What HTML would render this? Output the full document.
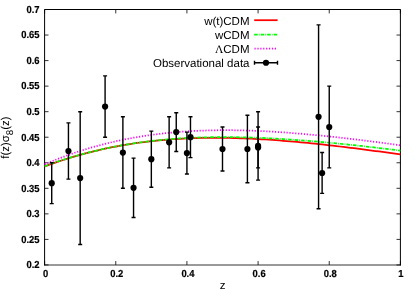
<!DOCTYPE html><html><head><meta charset="utf-8"><style>html,body{margin:0;padding:0;background:#fff}svg{display:block;will-change:transform}text{text-rendering:geometricPrecision;font-family:"Liberation Sans",sans-serif;fill:#000}</style></head><body>
<svg width="415" height="291" viewBox="0 0 415 291">
<rect width="415" height="291" fill="#fff"/>
<g stroke="#000" stroke-width="1" fill="none">
<path d="M44.6,265.45V9.5H400.4V265.45"/><path d="M44.1,265.0H400.9" stroke-width="0.8"/>
<path d="M44.6,264.95h3.9M400.4,264.95h-3.9" stroke-width="0.8"/>
<path d="M44.6,239.41h3.9M400.4,239.41h-3.9" stroke-width="0.8"/>
<path d="M44.6,213.86h3.9M400.4,213.86h-3.9" stroke-width="0.8"/>
<path d="M44.6,188.31h3.9M400.4,188.31h-3.9" stroke-width="0.8"/>
<path d="M44.6,162.77h3.9M400.4,162.77h-3.9" stroke-width="0.8"/>
<path d="M44.6,137.22h3.9M400.4,137.22h-3.9" stroke-width="0.8"/>
<path d="M44.6,111.68h3.9M400.4,111.68h-3.9" stroke-width="0.8"/>
<path d="M44.6,86.13h3.9M400.4,86.13h-3.9" stroke-width="0.8"/>
<path d="M44.6,60.59h3.9M400.4,60.59h-3.9" stroke-width="0.8"/>
<path d="M44.6,35.04h3.9M400.4,35.04h-3.9" stroke-width="0.8"/>
<path d="M44.6,9.50h3.9M400.4,9.50h-3.9" stroke-width="0.8"/>
<path d="M44.60,264.95v-3.9M44.60,9.5v3.9" stroke-width="0.8"/>
<path d="M115.76,264.95v-3.9M115.76,9.5v3.9" stroke-width="0.8"/>
<path d="M186.92,264.95v-3.9M186.92,9.5v3.9" stroke-width="0.8"/>
<path d="M258.08,264.95v-3.9M258.08,9.5v3.9" stroke-width="0.8"/>
<path d="M329.24,264.95v-3.9M329.24,9.5v3.9" stroke-width="0.8"/>
<path d="M400.40,264.95v-3.9M400.40,9.5v3.9" stroke-width="0.8"/>
</g>
<path d="M44.6,166.44 L48.2,165.14 L51.7,163.87 L55.3,162.63 L58.8,161.42 L62.4,160.25 L65.9,159.11 L69.5,158.00 L73.1,156.93 L76.6,155.88 L80.2,154.88 L83.7,153.90 L87.3,152.96 L90.9,152.04 L94.4,151.16 L98.0,150.31 L101.5,149.50 L105.1,148.71 L108.6,147.96 L112.2,147.23 L115.8,146.54 L119.3,145.87 L122.9,145.24 L126.4,144.63 L130.0,144.06 L133.5,143.51 L137.1,142.99 L140.7,142.50 L144.2,142.03 L147.8,141.59 L151.3,141.18 L154.9,140.80 L158.5,140.44 L162.0,140.10 L165.6,139.79 L169.1,139.51 L172.7,139.25 L176.2,139.01 L179.8,138.79 L183.4,138.60 L186.9,138.43 L190.5,138.29 L194.0,138.16 L197.6,138.06 L201.2,137.97 L204.7,137.91 L208.3,137.86 L211.8,137.84 L215.4,137.83 L218.9,137.85 L222.5,137.88 L226.1,137.92 L229.6,137.99 L233.2,138.07 L236.7,138.17 L240.3,138.28 L243.8,138.41 L247.4,138.56 L251.0,138.72 L254.5,138.89 L258.1,139.08 L261.6,139.28 L265.2,139.50 L268.8,139.73 L272.3,139.97 L275.9,140.22 L279.4,140.49 L283.0,140.76 L286.5,141.05 L290.1,141.35 L293.7,141.66 L297.2,141.98 L300.8,142.31 L304.3,142.65 L307.9,142.99 L311.4,143.35 L315.0,143.72 L318.6,144.09 L322.1,144.47 L325.7,144.86 L329.2,145.26 L332.8,145.67 L336.4,146.08 L339.9,146.50 L343.5,146.92 L347.0,147.36 L350.6,147.79 L354.1,148.24 L357.7,148.69 L361.3,149.14 L364.8,149.60 L368.4,150.07 L371.9,150.54 L375.5,151.01 L379.1,151.49 L382.6,151.98 L386.2,152.46 L389.7,152.95 L393.3,153.45 L396.8,153.95 L400.4,154.45" fill="none" stroke="#ff0000" stroke-width="1.75"/>
<path d="M44.6,166.25 L48.2,164.95 L51.7,163.69 L55.3,162.45 L58.8,161.25 L62.4,160.09 L65.9,158.96 L69.5,157.86 L73.1,156.80 L76.6,155.76 L80.2,154.76 L83.7,153.80 L87.3,152.86 L90.9,151.96 L94.4,151.08 L98.0,150.24 L101.5,149.43 L105.1,148.65 L108.6,147.89 L112.2,147.17 L115.8,146.48 L119.3,145.81 L122.9,145.18 L126.4,144.57 L130.0,143.99 L133.5,143.43 L137.1,142.90 L140.7,142.40 L144.2,141.92 L147.8,141.47 L151.3,141.05 L154.9,140.65 L158.5,140.27 L162.0,139.91 L165.6,139.58 L169.1,139.28 L172.7,138.99 L176.2,138.73 L179.8,138.48 L183.4,138.26 L186.9,138.06 L190.5,137.88 L194.0,137.72 L197.6,137.58 L201.2,137.46 L204.7,137.36 L208.3,137.27 L211.8,137.21 L215.4,137.16 L218.9,137.12 L222.5,137.11 L226.1,137.11 L229.6,137.13 L233.2,137.16 L236.7,137.21 L240.3,137.27 L243.8,137.35 L247.4,137.44 L251.0,137.54 L254.5,137.66 L258.1,137.79 L261.6,137.94 L265.2,138.09 L268.8,138.26 L272.3,138.44 L275.9,138.63 L279.4,138.84 L283.0,139.05 L286.5,139.28 L290.1,139.51 L293.7,139.76 L297.2,140.01 L300.8,140.28 L304.3,140.55 L307.9,140.83 L311.4,141.13 L315.0,141.43 L318.6,141.73 L322.1,142.05 L325.7,142.37 L329.2,142.71 L332.8,143.04 L336.4,143.39 L339.9,143.74 L343.5,144.10 L347.0,144.47 L350.6,144.84 L354.1,145.22 L357.7,145.60 L361.3,145.99 L364.8,146.38 L368.4,146.78 L371.9,147.18 L375.5,147.59 L379.1,148.01 L382.6,148.42 L386.2,148.85 L389.7,149.27 L393.3,149.70 L396.8,150.14 L400.4,150.58" fill="none" stroke="#00ff00" stroke-width="1.75" stroke-dasharray="3.5 1.1 0.8 1.1"/>
<path d="M44.6,164.33 L48.2,162.83 L51.7,161.36 L55.3,159.94 L58.8,158.55 L62.4,157.20 L65.9,155.89 L69.5,154.61 L73.1,153.37 L76.6,152.17 L80.2,151.00 L83.7,149.88 L87.3,148.78 L90.9,147.73 L94.4,146.71 L98.0,145.72 L101.5,144.77 L105.1,143.86 L108.6,142.98 L112.2,142.13 L115.8,141.32 L119.3,140.53 L122.9,139.79 L126.4,139.07 L130.0,138.39 L133.5,137.73 L137.1,137.11 L140.7,136.52 L144.2,135.96 L147.8,135.43 L151.3,134.92 L154.9,134.45 L158.5,134.00 L162.0,133.58 L165.6,133.19 L169.1,132.83 L172.7,132.49 L176.2,132.18 L179.8,131.89 L183.4,131.62 L186.9,131.38 L190.5,131.17 L194.0,130.98 L197.6,130.81 L201.2,130.66 L204.7,130.53 L208.3,130.43 L211.8,130.34 L215.4,130.28 L218.9,130.24 L222.5,130.21 L226.1,130.21 L229.6,130.22 L233.2,130.25 L236.7,130.30 L240.3,130.37 L243.8,130.45 L247.4,130.55 L251.0,130.67 L254.5,130.80 L258.1,130.94 L261.6,131.10 L265.2,131.28 L268.8,131.47 L272.3,131.67 L275.9,131.88 L279.4,132.11 L283.0,132.35 L286.5,132.61 L290.1,132.87 L293.7,133.15 L297.2,133.43 L300.8,133.73 L304.3,134.04 L307.9,134.36 L311.4,134.69 L315.0,135.02 L318.6,135.37 L322.1,135.72 L325.7,136.09 L329.2,136.46 L332.8,136.84 L336.4,137.23 L339.9,137.62 L343.5,138.03 L347.0,138.44 L350.6,138.85 L354.1,139.28 L357.7,139.71 L361.3,140.14 L364.8,140.58 L368.4,141.03 L371.9,141.48 L375.5,141.94 L379.1,142.40 L382.6,142.86 L386.2,143.34 L389.7,143.81 L393.3,144.29 L396.8,144.77 L400.4,145.26" fill="none" stroke="#ff00ff" stroke-width="1.75" stroke-dasharray="1.2 1.7"/>
<text transform="translate(39.5,268.25) scale(1.0,1.08)" font-size="9.4" font-weight="bold" stroke="#000" stroke-width="0.2" text-anchor="end">0.2</text>
<text transform="translate(39.5,242.71) scale(1.0,1.08)" font-size="9.4" font-weight="bold" stroke="#000" stroke-width="0.2" text-anchor="end">0.25</text>
<text transform="translate(39.5,217.16) scale(1.0,1.08)" font-size="9.4" font-weight="bold" stroke="#000" stroke-width="0.2" text-anchor="end">0.3</text>
<text transform="translate(39.5,191.62) scale(1.0,1.08)" font-size="9.4" font-weight="bold" stroke="#000" stroke-width="0.2" text-anchor="end">0.35</text>
<text transform="translate(39.5,166.07) scale(1.0,1.08)" font-size="9.4" font-weight="bold" stroke="#000" stroke-width="0.2" text-anchor="end">0.4</text>
<text transform="translate(39.5,140.53) scale(1.0,1.08)" font-size="9.4" font-weight="bold" stroke="#000" stroke-width="0.2" text-anchor="end">0.45</text>
<text transform="translate(39.5,114.98) scale(1.0,1.08)" font-size="9.4" font-weight="bold" stroke="#000" stroke-width="0.2" text-anchor="end">0.5</text>
<text transform="translate(39.5,89.43) scale(1.0,1.08)" font-size="9.4" font-weight="bold" stroke="#000" stroke-width="0.2" text-anchor="end">0.55</text>
<text transform="translate(39.5,63.89) scale(1.0,1.08)" font-size="9.4" font-weight="bold" stroke="#000" stroke-width="0.2" text-anchor="end">0.6</text>
<text transform="translate(39.5,38.34) scale(1.0,1.08)" font-size="9.4" font-weight="bold" stroke="#000" stroke-width="0.2" text-anchor="end">0.65</text>
<text transform="translate(39.5,12.80) scale(1.0,1.08)" font-size="9.4" font-weight="bold" stroke="#000" stroke-width="0.2" text-anchor="end">0.7</text>
<text transform="translate(45.60,276.9) scale(1.0,1.08)" font-size="9.4" font-weight="bold" stroke="#000" stroke-width="0.2" text-anchor="middle">0</text>
<text transform="translate(116.76,276.9) scale(1.0,1.08)" font-size="9.4" font-weight="bold" stroke="#000" stroke-width="0.2" text-anchor="middle">0.2</text>
<text transform="translate(187.92,276.9) scale(1.0,1.08)" font-size="9.4" font-weight="bold" stroke="#000" stroke-width="0.2" text-anchor="middle">0.4</text>
<text transform="translate(259.08,276.9) scale(1.0,1.08)" font-size="9.4" font-weight="bold" stroke="#000" stroke-width="0.2" text-anchor="middle">0.6</text>
<text transform="translate(330.24,276.9) scale(1.0,1.08)" font-size="9.4" font-weight="bold" stroke="#000" stroke-width="0.2" text-anchor="middle">0.8</text>
<text transform="translate(400.90,276.9) scale(1.0,1.08)" font-size="9.4" font-weight="bold" stroke="#000" stroke-width="0.2" text-anchor="middle">1</text>
<text x="222.5" y="289" font-size="11.5" text-anchor="middle">z</text>
<text transform="translate(9.3,158.7) rotate(-90)" font-size="11.4">f(z)σ<tspan font-size="9.8" dy="3.4">8</tspan><tspan dy="-3.4">(z)</tspan></text>
<g stroke="#000" stroke-width="1.4" fill="#000">
<path d="M51.72,162.77V203.64M49.72,162.77h4M49.72,203.64h4"/>
<circle cx="51.72" cy="183.21" r="3.1" stroke="none"/>
<path d="M68.44,122.92V179.12M66.44,122.92h4M66.44,179.12h4"/>
<circle cx="68.44" cy="151.02" r="3.1" stroke="none"/>
<path d="M80.18,111.68V244.51M78.18,111.68h4M78.18,244.51h4"/>
<circle cx="80.18" cy="178.10" r="3.1" stroke="none"/>
<path d="M105.09,75.92V137.22M103.09,75.92h4M103.09,137.22h4"/>
<circle cx="105.09" cy="106.57" r="3.1" stroke="none"/>
<path d="M122.88,116.79V188.31M120.88,116.79h4M120.88,188.31h4"/>
<circle cx="122.88" cy="152.55" r="3.1" stroke="none"/>
<path d="M133.55,158.17V217.44M131.55,158.17h4M131.55,217.44h4"/>
<circle cx="133.55" cy="187.80" r="3.1" stroke="none"/>
<path d="M151.34,131.09V187.29M149.34,131.09h4M149.34,187.29h4"/>
<circle cx="151.34" cy="159.19" r="3.1" stroke="none"/>
<path d="M169.13,116.79V167.88M167.13,116.79h4M167.13,167.88h4"/>
<circle cx="169.13" cy="142.33" r="3.1" stroke="none"/>
<path d="M176.25,112.70V151.53M174.25,112.70h4M174.25,151.53h4"/>
<circle cx="176.25" cy="132.12" r="3.1" stroke="none"/>
<path d="M186.92,132.12V174.01M184.92,132.12h4M184.92,174.01h4"/>
<circle cx="186.92" cy="153.06" r="3.1" stroke="none"/>
<path d="M190.48,116.79V157.66M188.48,116.79h4M188.48,157.66h4"/>
<circle cx="190.48" cy="137.22" r="3.1" stroke="none"/>
<path d="M222.50,127.01V170.94M220.50,127.01h4M220.50,170.94h4"/>
<circle cx="222.50" cy="148.98" r="3.1" stroke="none"/>
<path d="M247.41,115.26V182.70M245.41,115.26h4M245.41,182.70h4"/>
<circle cx="247.41" cy="148.98" r="3.1" stroke="none"/>
<path d="M258.08,127.01V167.88M256.08,127.01h4M256.08,167.88h4"/>
<circle cx="258.08" cy="147.44" r="3.1" stroke="none"/>
<path d="M258.08,111.68V180.14M256.08,111.68h4M256.08,180.14h4"/>
<circle cx="258.08" cy="145.91" r="3.1" stroke="none"/>
<path d="M318.57,24.83V208.75M316.57,24.83h4M316.57,208.75h4"/>
<circle cx="318.57" cy="116.79" r="3.1" stroke="none"/>
<path d="M322.12,152.55V193.42M320.12,152.55h4M320.12,193.42h4"/>
<circle cx="322.12" cy="172.99" r="3.1" stroke="none"/>
<path d="M329.24,86.14V167.88M327.24,86.14h4M327.24,167.88h4"/>
<circle cx="329.24" cy="127.01" r="3.1" stroke="none"/>
</g>
<text x="249.5" y="24.5" font-size="11.5" text-anchor="end">w(t)CDM</text>
<text x="249.5" y="38.8" font-size="11.5" text-anchor="end">wCDM</text>
<text x="249.5" y="52.9" font-size="11.5" text-anchor="end"><tspan font-family="Liberation Serif">Λ</tspan>CDM</text>
<text x="249.5" y="67.0" font-size="11.5" text-anchor="end">Observational data</text>
<path d="M254.2,20.2H277.6" stroke="#ff0000" stroke-width="1.75"/>
<path d="M254.2,34.55H277.6" stroke="#00ff00" stroke-width="1.75" stroke-dasharray="3.5 1.1 0.8 1.1"/>
<path d="M254.5,48.6H276.4" stroke="#ff00ff" stroke-width="1.75" stroke-dasharray="1.2 1.7"/>
<path d="M254.5,62.75H277.5M254.5,60.75v4M277.5,60.75v4" stroke="#000" stroke-width="1.4"/><circle cx="266" cy="62.75" r="3.1"/>
</svg></body></html>
